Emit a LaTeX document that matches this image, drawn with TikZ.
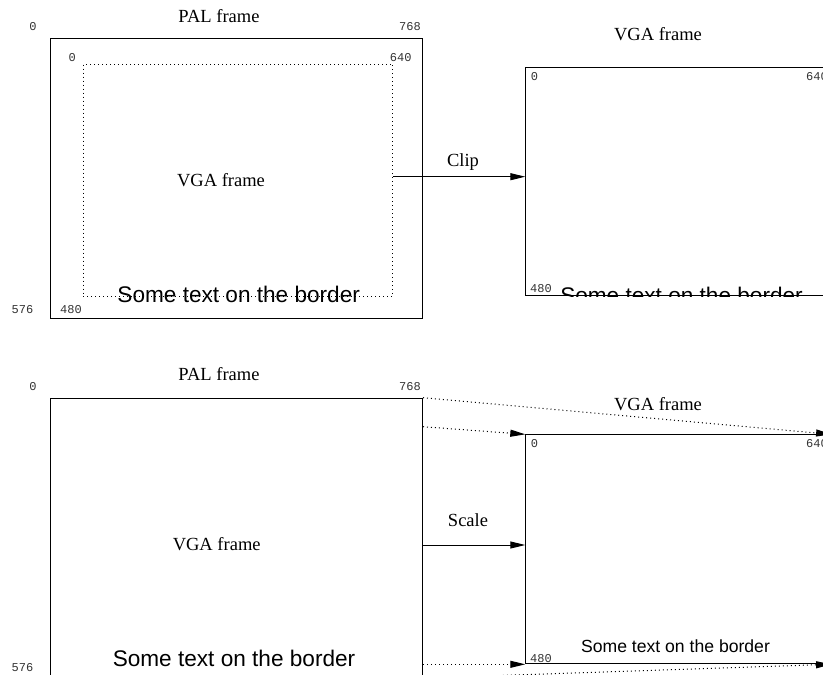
\documentclass[tikz,border=0pt]{standalone}
\usepackage{fontspec}
\setmainfont{Liberation Serif}
\setsansfont{Liberation Sans}
\setmonofont{Liberation Mono}
\usetikzlibrary{arrows.meta}
\begin{document}
\begin{tikzpicture}[x=1pt,y=-1pt,
  lbl/.style={inner sep=0, anchor=base, font=\fontsize{18.5}{20}\selectfont},
  num/.style={inner sep=0, anchor=base, font=\ttfamily\fontsize{12}{13}\selectfont, text=black!80},
  bord/.style={inner sep=0, anchor=base, font=\sffamily\fontsize{22.6}{24}\selectfont},
  bordsmall/.style={inner sep=0, anchor=base, font=\sffamily\fontsize{17.6}{19}\selectfont},
  boxframe/.style={draw, line width=1pt, inner sep=0, anchor=north west},
  dots/.style={line width=1pt, dash pattern=on 1pt off 3pt},
  arr/.style={line width=1pt, -{Triangle[length=15pt,width=7pt]}},
]
\path[use as bounding box, clip] (0,0) rectangle (823,675);

% ---------- top: Clip ----------
\node[boxframe, minimum width=372pt, minimum height=279.4pt] (pal1) at (50,38.3) {};
\node[boxframe, dots, minimum width=309.6pt, minimum height=232.3pt] (in1) at (82.7,63.7) {};
\node[lbl] (pal1t) at (219,22.5) {PAL frame};
\node[num] (p1a) at (33,30.5) {0};
\node[num, anchor=base east] (p1b) at (421,30.5) {768};
\node[num, anchor=base east] (p1c) at (33.5,313) {576};
\node[num, anchor=base west] (p1d) at (60,313) {480};
\node[num] (i1a) at (72.3,61) {0};
\node[num, anchor=base east] (i1b) at (411.7,61) {640};
\node[lbl] (i1t) at (221,186.7) {VGA frame};
\node[bord] (b1) at (238.7,302.5) {Some text on the border};

\node[boxframe, minimum width=304.8pt, minimum height=228.6pt] (vga1) at (525.3,66.7) {};
\node[lbl] (vga1t) at (658,40.7) {VGA frame};
\node[num, anchor=base west] (v1a) at (530.7,80) {0};
\node[num, anchor=base west] (v1b) at (806,80) {640};
\node[num, anchor=base west] (v1c) at (530,292) {480};
\begin{scope}
  \clip (vga1.north west) rectangle (vga1.south east);
  \node[bord] (b2) at (681.5,303) {Some text on the border};
\end{scope}
\coordinate (c1s) at (in1.east |- 0,176.7);
\coordinate (c1e) at (vga1.west |- 0,176.7);
\draw[arr] (c1s) -- (c1e);
\node[lbl] (clip) at (463,166.7) {Clip};

% ---------- bottom: Scale ----------
\node[boxframe, minimum width=372pt, minimum height=279.4pt] (pal2) at (50,397.7) {};
\node[lbl] (pal2t) at (219,380.7) {PAL frame};
\node[num] (p2a) at (33,390) {0};
\node[num, anchor=base east] (p2b) at (421,390) {768};
\node[num, anchor=base east] (p2c) at (33.5,671.7) {576};
\node[lbl] (i2t) at (216.7,550) {VGA frame};
\node[bord] (b3) at (234,666.7) {Some text on the border};

\node[boxframe, minimum width=304.8pt, minimum height=229pt] (vga2) at (525.3,434.3) {};
\node[lbl] (vga2t) at (658,410) {VGA frame};
\node[num, anchor=base west] (v2a) at (530.7,447) {0};
\node[num, anchor=base west] (v2b) at (806,447) {640};
\node[num, anchor=base west] (v2c) at (530,662) {480};
\node[bordsmall] (b4) at (675.5,652.7) {Some text on the border};

\coordinate (s2s) at (pal2.east |- 0,545);
\coordinate (s2e) at (vga2.west |- 0,545);
\draw[arr] (s2s) -- (s2e);
\node[lbl] (scale) at (468,526) {Scale};

\coordinate (d2s) at (pal2.east |- 0,426.7);
\coordinate (d3s) at (pal2.east |- 0,664.3);
\draw[dots, arr] (pal2.north east) -- (vga2.north east);
\draw[dots, arr] (d2s) -- (vga2.north west);
\draw[dots, arr] (d3s) -- (vga2.south west);
\draw[dots, arr] (pal2.south east) -- (vga2.south east);
\end{tikzpicture}
\end{document}
